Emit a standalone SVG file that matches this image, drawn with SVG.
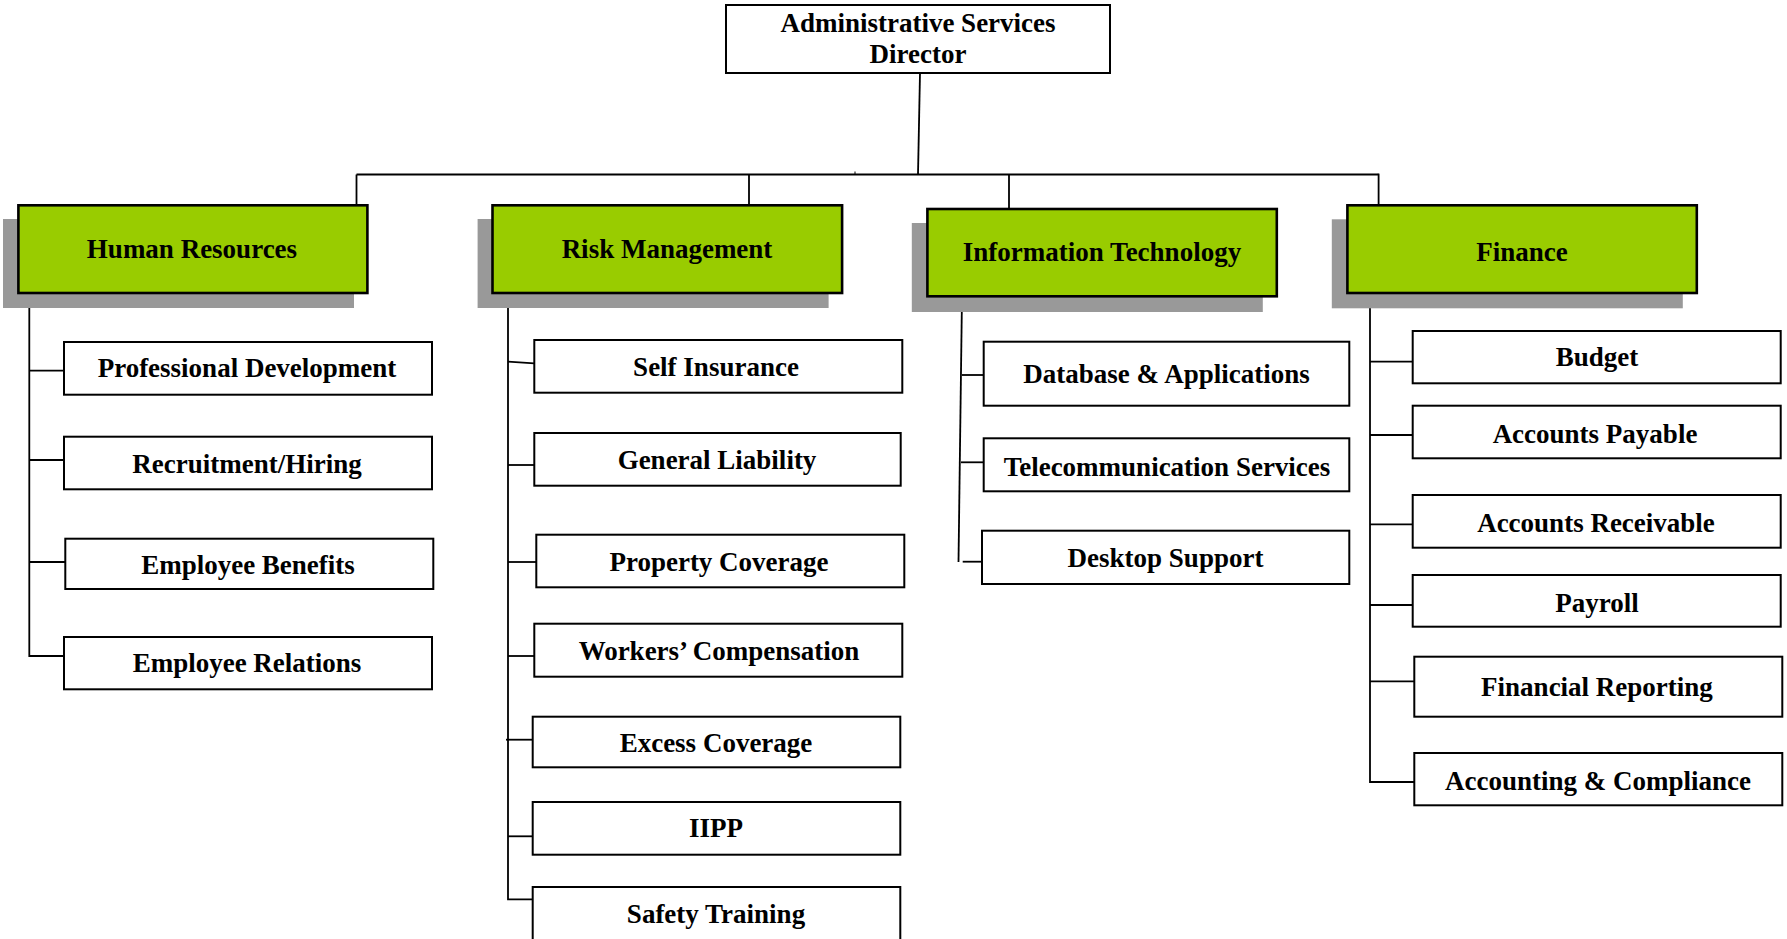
<svg xmlns="http://www.w3.org/2000/svg" width="1787" height="939" viewBox="0 0 1787 939">
<style>
text{font-family:"Liberation Serif","Times New Roman",serif;font-weight:bold;font-size:27px;fill:#000;text-anchor:middle}
.box{fill:#fff;stroke:#000;stroke-width:2}
.hdr{fill:#99cc00;stroke:#000;stroke-width:2.6}
.shd{fill:#999999;stroke:none}
.ln{stroke:#000;stroke-width:1.8;fill:none}
</style>
<rect width="1787" height="939" fill="#fff"/>
<g id="connectors">
<line class="ln" x1="920" y1="73" x2="918" y2="174.5"/>
<line class="ln" x1="356.5" y1="174.5" x2="1378.6" y2="174.5"/>
<line class="ln" x1="356.5" y1="174.5" x2="356.5" y2="205"/>
<line class="ln" x1="749" y1="174.5" x2="749" y2="205"/>
<line class="ln" x1="1009" y1="174.5" x2="1009" y2="209"/>
<line class="ln" x1="1378.6" y1="173.6" x2="1378.6" y2="205"/>
<line x1="855" y1="171.5" x2="855" y2="174.5" stroke="#000" stroke-width="1"/>
<polyline class="ln" points="29.3,293 29.3,656 64,656"/>
<line class="ln" x1="29.3" y1="370.7" x2="64" y2="370.7"/>
<line class="ln" x1="29.3" y1="460" x2="64" y2="460"/>
<line class="ln" x1="29.3" y1="562" x2="65.3" y2="562"/>
<polyline class="ln" points="508,293 508,899.3 532.7,899.3"/>
<line class="ln" x1="508" y1="361.7" x2="534.3" y2="363.3"/>
<line class="ln" x1="508" y1="465" x2="534.3" y2="465"/>
<line class="ln" x1="508" y1="562" x2="536.3" y2="562"/>
<line class="ln" x1="508" y1="656" x2="534.3" y2="656"/>
<line class="ln" x1="506" y1="739.7" x2="532.7" y2="739.7"/>
<line class="ln" x1="508" y1="836.3" x2="532.7" y2="836.3"/>
<line class="ln" x1="962" y1="296" x2="958.5" y2="562"/>
<line class="ln" x1="962" y1="375" x2="983.7" y2="375"/>
<line class="ln" x1="961" y1="462.3" x2="983.7" y2="462.3"/>
<line class="ln" x1="962.7" y1="561.7" x2="982" y2="561.7"/>
<polyline class="ln" points="1370,293 1370,782 1414.3,782"/>
<line class="ln" x1="1370" y1="361.7" x2="1412.7" y2="361.7"/>
<line class="ln" x1="1370" y1="435" x2="1412.7" y2="435"/>
<line class="ln" x1="1370" y1="524.3" x2="1412.7" y2="524.3"/>
<line class="ln" x1="1370" y1="605" x2="1412.7" y2="605"/>
<line class="ln" x1="1370" y1="681.3" x2="1414.3" y2="681.3"/>
</g>
<g id="director">
<rect class="box" x="726" y="5" width="384" height="68"/>
<text x="918" y="32">Administrative Services</text>
<text x="918" y="63">Director</text>
</g>
<g id="hr">
<rect class="shd" x="3" y="219" width="351" height="89"/>
<rect class="hdr" x="18.4" y="205.3" width="349" height="87.7"/>
<text x="192" y="258">Human Resources</text>
</g>
<g id="rm">
<rect class="shd" x="477.6" y="219" width="351" height="89"/>
<rect class="hdr" x="492.5" y="205.3" width="349.6" height="87.7"/>
<text x="667" y="258">Risk Management</text>
</g>
<g id="it">
<rect class="shd" x="911.8" y="223" width="351" height="89"/>
<rect class="hdr" x="927.4" y="209" width="349.4" height="87.3"/>
<text x="1102" y="260.5">Information Technology</text>
</g>
<g id="finance">
<rect class="shd" x="1331.8" y="219.3" width="351" height="89"/>
<rect class="hdr" x="1347.4" y="205.3" width="349.4" height="87.7"/>
<text x="1522" y="261">Finance</text>
</g>
<g id="hr-professional-development"><rect class="box" x="64" y="342" width="368" height="52.7"/><text x="247" y="377.3">Professional Development</text></g>
<g id="hr-recruitment"><rect class="box" x="64" y="436.7" width="368" height="52.6"/><text x="247" y="472.7">Recruitment/Hiring</text></g>
<g id="hr-employee-benefits"><rect class="box" x="65.3" y="538.7" width="368" height="50.3"/><text x="248" y="574">Employee Benefits</text></g>
<g id="hr-employee-relations"><rect class="box" x="64" y="637" width="368" height="52.3"/><text x="247" y="672">Employee Relations</text></g>
<g id="rm-self-insurance"><rect class="box" x="534.3" y="340" width="368" height="52.7"/><text x="716" y="376">Self Insurance</text></g>
<g id="rm-general-liability"><rect class="box" x="534.3" y="433" width="366.4" height="52.7"/><text x="717" y="469">General Liability</text></g>
<g id="rm-property-coverage"><rect class="box" x="536.3" y="534.7" width="368" height="52.6"/><text x="719" y="570.7">Property Coverage</text></g>
<g id="rm-workers-comp"><rect class="box" x="534.3" y="623.7" width="368" height="53"/><text x="719" y="660">Workers’ Compensation</text></g>
<g id="rm-excess-coverage"><rect class="box" x="532.7" y="716.7" width="367.6" height="50.6"/><text x="716" y="752">Excess Coverage</text></g>
<g id="rm-iipp"><rect class="box" x="532.7" y="802" width="367.6" height="52.7"/><text x="716" y="837.3">IIPP</text></g>
<g id="rm-safety-training"><rect class="box" x="532.7" y="887" width="367.6" height="60"/><text x="716" y="922.7">Safety Training</text></g>
<g id="it-database"><rect class="box" x="983.7" y="341.7" width="365.6" height="64"/><text x="1166.5" y="383.3">Database &amp; Applications</text></g>
<g id="it-telecom"><rect class="box" x="983.7" y="438.3" width="365.6" height="53"/><text x="1167" y="475.7">Telecommunication Services</text></g>
<g id="it-desktop"><rect class="box" x="982" y="530.7" width="367.3" height="53.3"/><text x="1165.5" y="566.7">Desktop Support</text></g>
<g id="fin-budget"><rect class="box" x="1412.7" y="331" width="368" height="52.3"/><text x="1597" y="366">Budget</text></g>
<g id="fin-ap"><rect class="box" x="1412.7" y="405.7" width="368" height="52.6"/><text x="1595" y="442.7">Accounts Payable</text></g>
<g id="fin-ar"><rect class="box" x="1412.7" y="495" width="368" height="52.7"/><text x="1596" y="531.7">Accounts Receivable</text></g>
<g id="fin-payroll"><rect class="box" x="1412.7" y="575" width="368" height="51.7"/><text x="1597" y="611.7">Payroll</text></g>
<g id="fin-reporting"><rect class="box" x="1414.3" y="656.7" width="368" height="60"/><text x="1597" y="696">Financial Reporting</text></g>
<g id="fin-compliance"><rect class="box" x="1414.3" y="753" width="368" height="52.3"/><text x="1598" y="790">Accounting &amp; Compliance</text></g>
</svg>
